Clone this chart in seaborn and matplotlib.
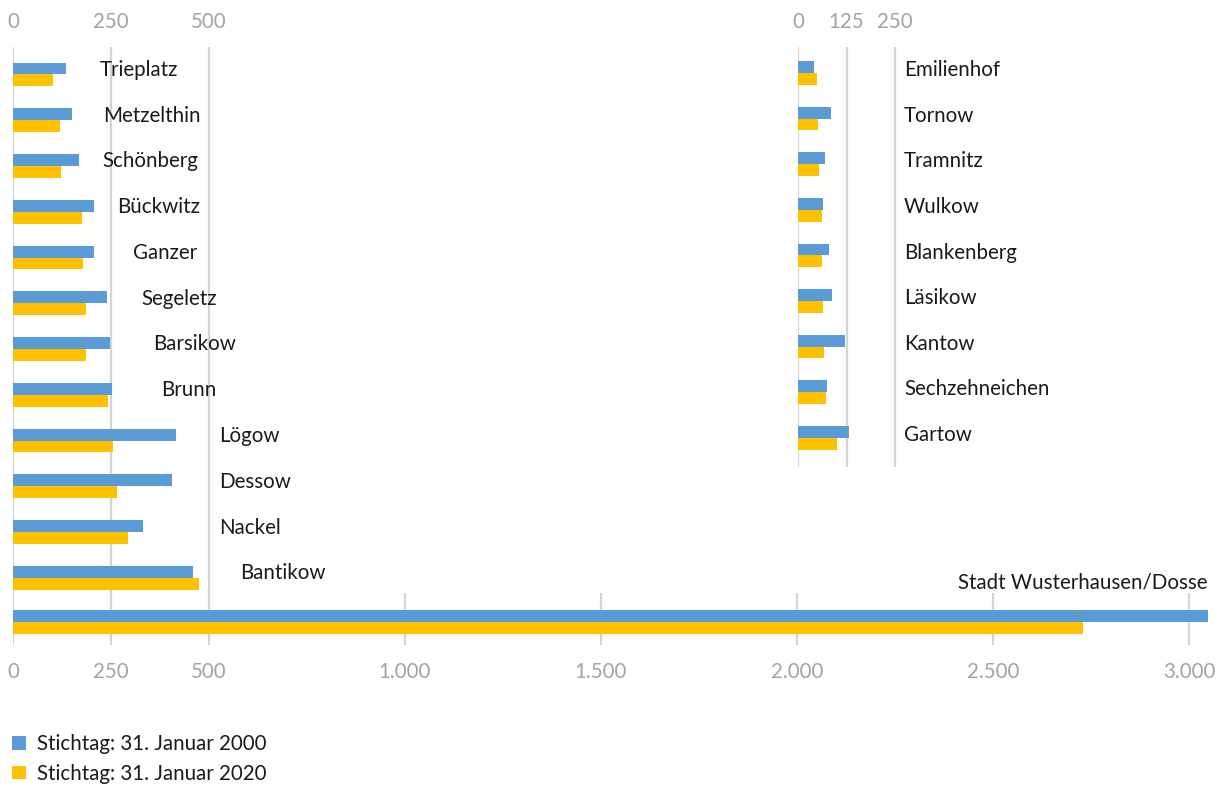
import matplotlib
matplotlib.use("Agg")
import matplotlib.pyplot as plt
from matplotlib.patches import Patch
from matplotlib.ticker import FuncFormatter
import pandas as pd
import seaborn as sns

# ---- data: inhabitants per district ----
series = ["Stichtag: 31. Januar 2000", "Stichtag: 31. Januar 2020"]

left_places = ["Trieplatz", "Metzelthin", "Schönberg", "Bückwitz", "Ganzer",
               "Segeletz", "Barsikow", "Brunn", "Lögow", "Dessow", "Nackel",
               "Bantikow"]
left_2000 = [135, 150, 168, 206, 206, 240, 248, 253, 416, 406, 332, 459]
left_2020 = [102, 120, 123, 175, 179, 186, 186, 242, 255, 265, 293, 474]

right_places = ["Emilienhof", "Tornow", "Tramnitz", "Wulkow", "Blankenberg",
                "Läsikow", "Kantow", "Sechzehneichen", "Gartow"]
right_2000 = [41, 85, 70, 64, 80, 88, 121, 75, 131]
right_2020 = [49, 52, 54, 62, 62, 64, 67, 72, 100]

town_places = ["Stadt Wusterhausen/Dosse"]
town_2000 = [3048]
town_2020 = [2730]

left_ticks = [0, 250, 500]
right_ticks = [0, 125, 250]
bottom_ticks = [0, 250, 500, 1000, 1500, 2000, 2500, 3000]

colors = ["#5B9BD5", "#FFC000"]


def long_frame(places, v2000, v2020):
    a = pd.DataFrame({"Ortsteil": places, "Einwohner": v2000, "Stichtag": series[0]})
    b = pd.DataFrame({"Ortsteil": places, "Einwohner": v2020, "Stichtag": series[1]})
    return pd.concat([a, b], ignore_index=True)


# ---- layout ----
W, H = 1227, 787
sns.set_theme(style="white")
plt.rcParams["font.family"] = ["Lato", "DejaVu Sans"]
TEXT = "#1a1a1a"
TICK = "#a3a3a3"
GRID = "#d4d4d4"
FS = 14.8

fig = plt.figure(figsize=(W / 100, H / 100), dpi=100)
fig.patch.set_facecolor("white")


def px_axes(x0, y0, x1, y1):
    return fig.add_axes([x0 / W, 1 - y1 / H, (x1 - x0) / W, (y1 - y0) / H])


def de_fmt(v, _pos=None):
    return f"{v:,.0f}".replace(",", ".")


def style(ax, ticks, top):
    ax.set_xticks(ticks)
    ax.xaxis.set_major_formatter(FuncFormatter(de_fmt))
    ax.grid(axis="x", color=GRID, linewidth=1.6)
    ax.grid(axis="y", visible=False)
    ax.set_axisbelow(True)
    for s in ax.spines.values():
        s.set_visible(False)
    ax.set_yticks([])
    ax.set_xlabel("")
    ax.set_ylabel("")
    if top:
        ax.xaxis.tick_top()
    ax.tick_params(axis="x", length=0, colors=TICK, labelsize=FS, pad=11)
    leg = ax.get_legend()
    if leg is not None:
        leg.remove()


SCALE = 0.392  # pixels per inhabitant on the main axis
BAR_W = 0.52

# left panel of villages
ax_l = px_axes(13, 47, 350, 593)
sns.barplot(data=long_frame(left_places, left_2000, left_2020), x="Einwohner",
            y="Ortsteil", hue="Stichtag", palette=colors, orient="h",
            width=BAR_W, saturation=1, linewidth=0, errorbar=None, ax=ax_l)
ax_l.set_xlim(0, (350 - 13) / SCALE)
ax_l.set_ylim(11.33, -0.60)
style(ax_l, left_ticks, top=True)
left_label_x = [222, 230, 227, 265, 306, 327, 357, 378, 525, 525, 525, 579]
for i, (name, lx) in enumerate(zip(left_places, left_label_x)):
    ax_l.text(lx, i - 0.1, name, ha="left", va="center", fontsize=FS, color=TEXT)

# right panel of small villages
RSCALE = 0.388
ax_r = px_axes(798, 47, 1100, 467)
sns.barplot(data=long_frame(right_places, right_2000, right_2020), x="Einwohner",
            y="Ortsteil", hue="Stichtag", palette=colors, orient="h",
            width=BAR_W, saturation=1, linewidth=0, errorbar=None, ax=ax_r)
ax_r.set_xlim(0, (1100 - 798) / RSCALE)
ax_r.set_ylim(8.64, -0.57)
style(ax_r, right_ticks, top=True)
for i, name in enumerate(right_places):
    ax_r.text((904 - 798) / RSCALE, i - 0.06, name, ha="left", va="center",
              fontsize=FS, color=TEXT)

# whole town on the shared bottom axis
ax_b = px_axes(13, 593, 1215, 645)
sns.barplot(data=long_frame(town_places, town_2000, town_2020), x="Einwohner",
            y="Ortsteil", hue="Stichtag", palette=colors, orient="h",
            width=BAR_W, saturation=1, linewidth=0, errorbar=None, ax=ax_b)
ax_b.set_xlim(0, (1215 - 13) / SCALE)
ax_b.set_ylim(0.5, -0.63)
style(ax_b, bottom_ticks, top=False)
ax_b.tick_params(axis="x", pad=12)
ax_b.text(town_2000[0] - 0.5, -0.85, town_places[0], ha="right", va="center",
          fontsize=FS, color=TEXT)

# legend
handles = [Patch(facecolor=c, edgecolor="none") for c in colors]
fig.legend(handles, series, loc="upper left", bbox_to_anchor=(0.0, 1 - 722 / H),
           frameon=False, fontsize=FS, handlelength=0.65, handleheight=0.65,
           handletextpad=0.55, labelspacing=0.45, borderaxespad=0.2,
           labelcolor=TEXT)

fig.savefig("out.png", dpi=100, facecolor="white")
